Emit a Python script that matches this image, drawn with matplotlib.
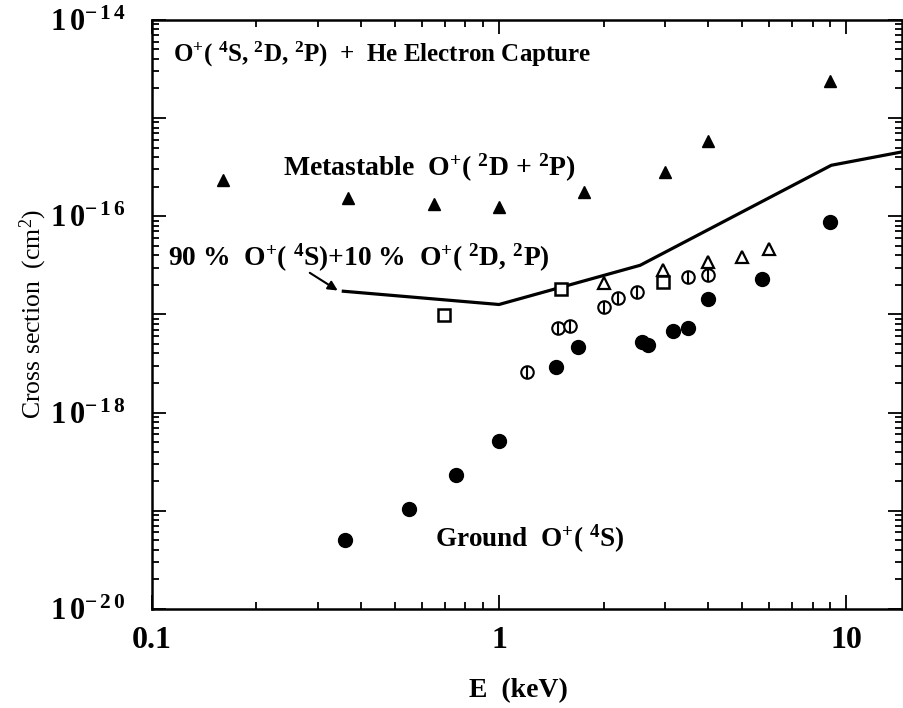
import matplotlib
matplotlib.use("Agg")
import matplotlib.pyplot as plt
from matplotlib.ticker import FixedLocator, FuncFormatter, LogLocator, NullFormatter

plt.rcParams["font.family"] = ["Liberation Serif", "DejaVu Serif"]
plt.rcParams["mathtext.fontset"] = "custom"
plt.rcParams["mathtext.rm"] = "Liberation Serif"
plt.rcParams["mathtext.it"] = "Liberation Serif"
plt.rcParams["mathtext.bf"] = "Liberation Serif:bold"
plt.rcParams["mathtext.default"] = "bf"

# metastable O+(2D+2P) beam
e_meta = [0.16, 0.367, 0.65, 1.0, 1.76, 3.0, 4.0, 9.0]
s_meta = [2.33e-16, 1.53e-16, 1.33e-16, 1.24e-16, 1.76e-16, 2.81e-16, 5.8e-16, 2.39e-15]

# ground state O+(4S)
e_ground = [0.36, 0.552, 0.75, 1.0, 1.46, 1.69, 2.59, 2.69, 3.17, 3.5, 4.0, 5.73, 9.0]
s_ground = [5.06e-20, 1.05e-19, 2.33e-19, 5.18e-19, 2.94e-18, 4.6e-18, 5.18e-18,
            4.83e-18, 6.7e-18, 7.2e-18, 1.42e-17, 2.27e-17, 8.7e-17]

# mixed beam measurements
e_phi = [1.2, 1.48, 1.6, 2.0, 2.2, 2.5, 3.5, 4.0]
s_phi = [2.56e-18, 7.2e-18, 7.55e-18, 1.18e-17, 1.46e-17, 1.68e-17, 2.39e-17, 2.5e-17]

e_sq = [0.696, 1.51, 2.97]
s_sq = [9.77e-18, 1.8e-17, 2.12e-17]

e_otri = [2.0, 2.97, 4.0, 5.02, 6.0]
s_otri = [2.07e-17, 2.8e-17, 3.4e-17, 3.8e-17, 4.6e-17]

# 90% O+(4S) + 10% O+(2D,2P) curve
e_mix = [0.356, 1.0, 2.55, 9.06, 14.4]
s_mix = [1.72e-17, 1.26e-17, 3.16e-17, 3.3e-16, 4.5e-16]

fig = plt.figure(figsize=(9.04, 7.08), dpi=100)
ax = fig.add_axes([0.168, 0.140, 0.830, 0.832])

ax.plot(e_mix, s_mix, color="black", linewidth=2.3)
ax.plot(e_meta, s_meta, linestyle="none", marker="^", markersize=8, color="black")
ax.plot(e_ground, s_ground, linestyle="none", marker="o", markersize=10, color="black")
ax.plot(e_phi, s_phi, linestyle="none", marker="o", markersize=9,
        markerfacecolor="white", markeredgecolor="black", markeredgewidth=1.5)
ax.plot(e_phi, s_phi, linestyle="none", marker="|", markersize=9,
        color="black", markeredgewidth=1.5)
ax.plot(e_sq, s_sq, linestyle="none", marker="s", markersize=9,
        markerfacecolor="white", markeredgecolor="black", markeredgewidth=1.8)
ax.plot(e_otri, s_otri, linestyle="none", marker="^", markersize=9,
        markerfacecolor="white", markeredgecolor="black", markeredgewidth=1.6)

ax.set_xscale("log")
ax.set_yscale("log")
ax.set_xlim(0.1, 14.5)
ax.set_ylim(1e-20, 1e-14)

x_major = [0.1, 1, 10]
ax.xaxis.set_major_locator(FixedLocator(x_major))
ax.xaxis.set_major_formatter(FuncFormatter(lambda v, p: "%g" % v))
ax.xaxis.set_minor_locator(LogLocator(base=10, subs=range(2, 10), numticks=20))
ax.xaxis.set_minor_formatter(NullFormatter())

y_major = [1e-20, 1e-19, 1e-18, 1e-17, 1e-16, 1e-15, 1e-14]
y_labels = {1e-20: r"-\,2\,0", 1e-18: r"-\,1\,8", 1e-16: r"-\,1\,6", 1e-14: r"-\,1\,4"}


def ylab(v, p):
    for k, s in y_labels.items():
        if abs(v / k - 1) < 1e-6:
            return r"$\mathbf{1\,0^{%s}}$" % s
    return ""


ax.yaxis.set_major_locator(FixedLocator(y_major))
ax.yaxis.set_major_formatter(FuncFormatter(ylab))
ax.yaxis.set_minor_locator(LogLocator(base=10, subs=range(2, 10), numticks=20))
ax.yaxis.set_minor_formatter(NullFormatter())

ax.tick_params(which="both", direction="in", top=True, right=True, width=1.3)
ax.tick_params(which="major", length=10, labelsize=23)
ax.tick_params(axis="y", which="major", labelsize=22, pad=19)
ax.tick_params(axis="x", which="major", pad=12)
ax.tick_params(which="minor", length=5)
for lbl in ax.get_xticklabels():
    lbl.set_fontweight("bold")
for sp in ax.spines.values():
    sp.set_linewidth(1.8)

ax.set_xlabel("E  (keV)", fontsize=20, fontweight="bold")
ax.xaxis.set_label_coords(0.489, -0.118)
ax.set_ylabel(r"Cross section  (cm$\mathregular{^{2}}$)", fontsize=18.5)
ax.yaxis.set_label_coords(-0.137, 0.5)

ax.text(0.115, 4.4e-15,
        r"O$^{+}$( $^{4}$S, $^{2}$D, $^{2}$P)  +  He Electron Capture",
        fontsize=18, fontweight="bold", va="center")
ax.text(0.238, 3.1e-16, r"Metastable  O$^{+}$( $^{2}$D + $^{2}$P)",
        fontsize=20, fontweight="bold", va="center")
ax.text(0.111, 3.75e-17, r"90 %  O$^{+}$( $^{4}$S)+10 %  O$^{+}$( $^{2}$D, $^{2}$P)",
        fontsize=19.8, fontweight="bold", va="center")
ax.text(0.656, 5.2e-20, r"Ground  O$^{+}$( $^{4}$S)",
        fontsize=19.5, fontweight="bold", va="center")

ax.annotate("", xy=(0.343, 1.75e-17), xytext=(0.285, 2.65e-17),
            arrowprops=dict(arrowstyle="-|>", color="black", lw=1.5,
                            mutation_scale=14, shrinkA=0, shrinkB=0))

fig.savefig("out.png", dpi=100)
